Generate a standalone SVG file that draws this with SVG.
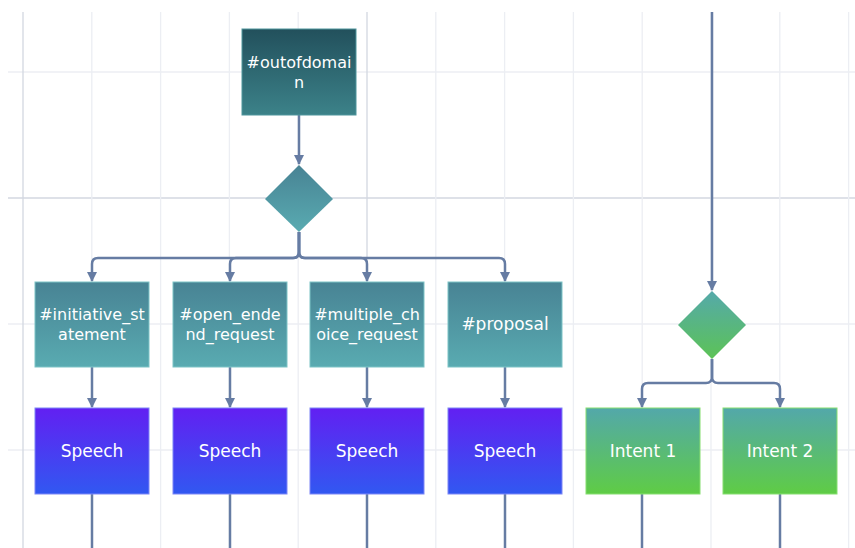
<svg xmlns="http://www.w3.org/2000/svg" width="855" height="548" viewBox="0 0 855 548">
  <defs>
    <linearGradient id="gDark" x1="0" y1="0" x2="0" y2="1">
      <stop offset="0" stop-color="#22505c"/>
      <stop offset="1" stop-color="#3c8289"/>
    </linearGradient>
    <linearGradient id="gTeal" x1="0" y1="0" x2="0" y2="1">
      <stop offset="0" stop-color="#488394"/>
      <stop offset="1" stop-color="#59abb1"/>
    </linearGradient>
    <linearGradient id="gSpeech" x1="0" y1="0" x2="0" y2="1">
      <stop offset="0" stop-color="#6220f2"/>
      <stop offset="1" stop-color="#3158f1"/>
    </linearGradient>
    <linearGradient id="gGreen" x1="0" y1="0" x2="0" y2="1">
      <stop offset="0" stop-color="#53a8aa"/>
      <stop offset="1" stop-color="#5fcc45"/>
    </linearGradient>
    <linearGradient id="gGreenDia" x1="0" y1="0" x2="0" y2="1">
      <stop offset="0" stop-color="#55a9aa"/>
      <stop offset="1" stop-color="#5cc356"/>
    </linearGradient>
    <marker id="arrow" markerUnits="userSpaceOnUse" markerWidth="11" markerHeight="11" refX="9" refY="5" orient="auto">
      <path d="M0,0 L10,5 L0,10 z" fill="#667ca3"/>
    </marker>
  </defs>
  <style>
    .grid { stroke: #eceef3; stroke-width: 1.3; }
    .grid-major { stroke: #d3d7e1; stroke-width: 1.3; }
    .conn { fill: none; stroke: #667ca3; stroke-width: 2.5; }
    .label { fill: #ffffff; font-family: "Century Gothic", "DejaVu Sans", "Liberation Sans", sans-serif; font-size: 16px; text-anchor: middle; }
    .big { font-size: 17px; }
    .dark { fill: url(#gDark); stroke: #4f959c; stroke-width: 1; }
    .teal { fill: url(#gTeal); stroke: #7cc3c6; stroke-width: 1; }
    .speech { fill: url(#gSpeech); stroke: #7d86f6; stroke-width: 1; }
    .intent { fill: url(#gGreen); stroke: #86de70; stroke-width: 1; }
  </style>

  <rect width="855" height="548" fill="#ffffff"/>

  <!-- background grid -->
  <g id="grid">
    <line class="grid" x1="8" y1="72" x2="855" y2="72"/>
    <line class="grid-major" x1="8" y1="198" x2="855" y2="198"/>
    <line class="grid" x1="8" y1="324" x2="855" y2="324"/>
    <line class="grid" x1="8" y1="450" x2="855" y2="450"/>
    <line class="grid-major" x1="23" y1="12" x2="23" y2="548"/>
    <line class="grid" x1="91.8" y1="12" x2="91.8" y2="548"/>
    <line class="grid" x1="160.6" y1="12" x2="160.6" y2="548"/>
    <line class="grid" x1="229.4" y1="12" x2="229.4" y2="548"/>
    <line class="grid" x1="298.2" y1="12" x2="298.2" y2="548"/>
    <line class="grid-major" x1="367" y1="12" x2="367" y2="548"/>
    <line class="grid" x1="435.8" y1="12" x2="435.8" y2="548"/>
    <line class="grid" x1="504.6" y1="12" x2="504.6" y2="548"/>
    <line class="grid" x1="573.4" y1="12" x2="573.4" y2="548"/>
    <line class="grid" x1="642.2" y1="12" x2="642.2" y2="548"/>
    <line class="grid" x1="711" y1="12" x2="711" y2="548"/>
    <line class="grid" x1="779.8" y1="12" x2="779.8" y2="548"/>
    <line class="grid" x1="848.6" y1="12" x2="848.6" y2="548"/>
  </g>

  <!-- connectors -->
  <g id="connectors">
    <path class="conn" d="M299,115 V164" marker-end="url(#arrow)"/>
    <path class="conn" d="M299,232 V252 Q299,258 293,258 H98 Q92,258 92,264 V281" marker-end="url(#arrow)"/>
    <path class="conn" d="M299,232 V252 Q299,258 293,258 H236 Q230,258 230,264 V281" marker-end="url(#arrow)"/>
    <path class="conn" d="M299,232 V252 Q299,258 305,258 H361 Q367,258 367,264 V281" marker-end="url(#arrow)"/>
    <path class="conn" d="M299,232 V252 Q299,258 305,258 H499 Q505,258 505,264 V281" marker-end="url(#arrow)"/>
    <path class="conn" d="M92,367 V407" marker-end="url(#arrow)"/>
    <path class="conn" d="M230,367 V407" marker-end="url(#arrow)"/>
    <path class="conn" d="M367,367 V407" marker-end="url(#arrow)"/>
    <path class="conn" d="M505,367 V407" marker-end="url(#arrow)"/>
    <path class="conn" d="M92,494 V548"/>
    <path class="conn" d="M230,494 V548"/>
    <path class="conn" d="M367,494 V548"/>
    <path class="conn" d="M505,494 V548"/>
    <path class="conn" d="M712,12 V290" marker-end="url(#arrow)"/>
    <path class="conn" d="M712,359 V377 Q712,383 706,383 H648 Q642,383 642,389 V407" marker-end="url(#arrow)"/>
    <path class="conn" d="M712,359 V377 Q712,383 718,383 H774 Q780,383 780,389 V407" marker-end="url(#arrow)"/>
    <path class="conn" d="M642,494 V548"/>
    <path class="conn" d="M780,494 V548"/>
  </g>

  <!-- nodes -->
  <g id="outofdomain">
    <rect class="dark" x="242" y="29" width="114" height="86"/>
    <text class="label" x="299" y="68">#outofdomai</text>
    <text class="label" x="299" y="88">n</text>
  </g>
  <g id="decision-domain">
    <polygon points="299,165 333,199 299,232 265,199" fill="url(#gTeal)"/>
  </g>
  <g id="initiative-statement">
    <rect class="teal" x="35" y="282" width="114" height="85"/>
    <text class="label" x="92" y="320">#initiative_st</text>
    <text class="label" x="92" y="340">atement</text>
  </g>
  <g id="open-ended-request">
    <rect class="teal" x="173" y="282" width="114" height="85"/>
    <text class="label" x="230" y="320">#open_ende</text>
    <text class="label" x="230" y="340">nd_request</text>
  </g>
  <g id="multiple-choice-request">
    <rect class="teal" x="310" y="282" width="114" height="85"/>
    <text class="label" x="367" y="320">#multiple_ch</text>
    <text class="label" x="367" y="340">oice_request</text>
  </g>
  <g id="proposal">
    <rect class="teal" x="448" y="282" width="114" height="85"/>
    <text class="label big" x="505" y="330">#proposal</text>
  </g>
  <g id="speech-1">
    <rect class="speech" x="35" y="408" width="114" height="86"/>
    <text class="label big" x="92" y="457">Speech</text>
  </g>
  <g id="speech-2">
    <rect class="speech" x="173" y="408" width="114" height="86"/>
    <text class="label big" x="230" y="457">Speech</text>
  </g>
  <g id="speech-3">
    <rect class="speech" x="310" y="408" width="114" height="86"/>
    <text class="label big" x="367" y="457">Speech</text>
  </g>
  <g id="speech-4">
    <rect class="speech" x="448" y="408" width="114" height="86"/>
    <text class="label big" x="505" y="457">Speech</text>
  </g>
  <g id="decision-intent">
    <polygon points="712,291 746,325 712,359 678,325" fill="url(#gGreenDia)"/>
  </g>
  <g id="intent-1">
    <rect class="intent" x="586" y="408" width="114" height="86"/>
    <text class="label big" x="643" y="457">Intent 1</text>
  </g>
  <g id="intent-2">
    <rect class="intent" x="723" y="408" width="114" height="86"/>
    <text class="label big" x="780" y="457">Intent 2</text>
  </g>
</svg>
